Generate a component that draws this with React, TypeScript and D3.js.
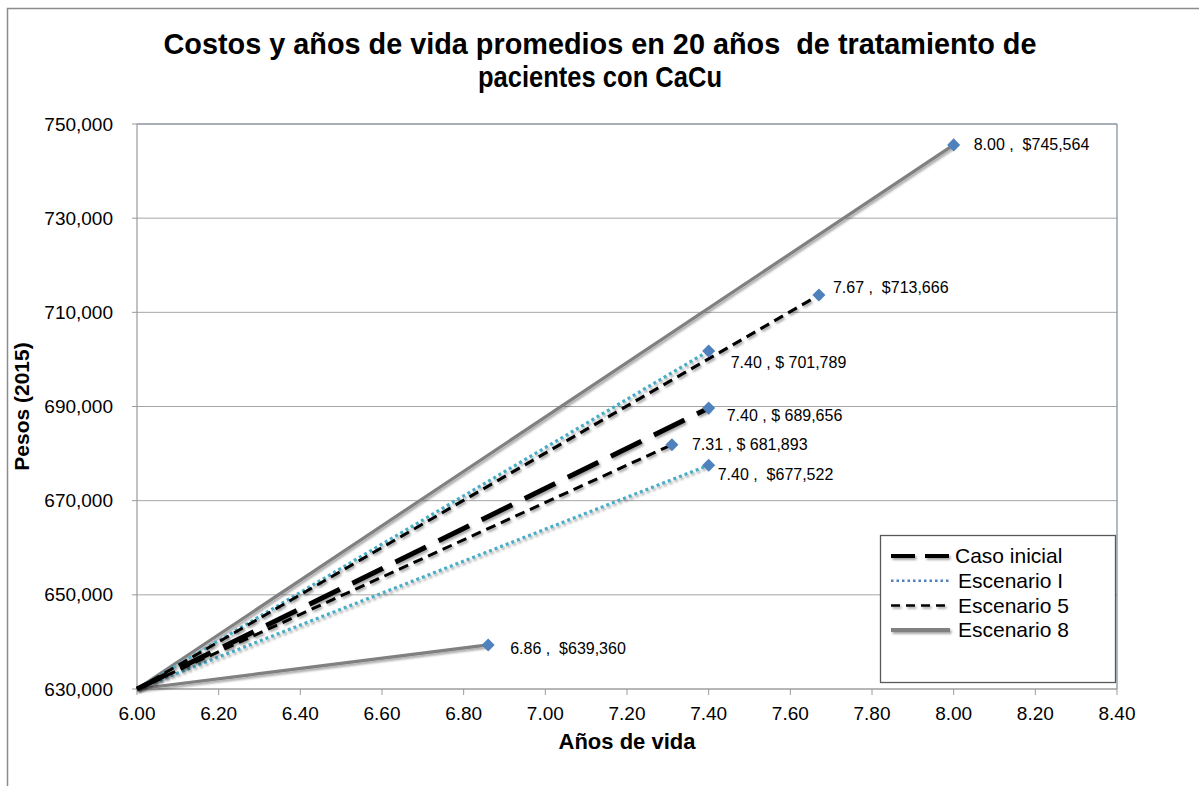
import React from "react";
import * as d3 from "d3";

const titleLines = ["Costos y años de vida promedios en 20 años  de tratamiento de", "pacientes con CaCu"];
const titleWidths = [873, 244];
const xAxisTitle = "Años de vida";
const yAxisTitle = "Pesos (2015)";

const xTicks = [6.0, 6.2, 6.4, 6.6, 6.8, 7.0, 7.2, 7.4, 7.6, 7.8, 8.0, 8.2, 8.4];
const yTicks = [630000, 650000, 670000, 690000, 710000, 730000, 750000];

const originX = 6.0;
const originY = 630000;

const seriesNames = ["Caso inicial", "Escenario I", "Escenario 5", "Escenario 8"];

// endpoints of each series (every line starts at the origin point)
const casoInicialX = [7.40];
const casoInicialY = [689656];
const escenarioIX = [7.40, 7.40];
const escenarioIY = [701789, 677522];
const escenario5X = [7.67, 7.31];
const escenario5Y = [713666, 681893];
const escenario8X = [8.00, 6.86];
const escenario8Y = [745564, 639360];

const casoInicialLabels = ["7.40 , $ 689,656"];
const escenarioILabels = ["7.40 , $ 701,789", "7.40 ,  $677,522"];
const escenario5Labels = ["7.67 ,  $713,666", "7.31 , $ 681,893"];
const escenario8Labels = ["8.00 ,  $745,564", "6.86 ,  $639,360"];

// label offsets (layout only)
const casoInicialOffsets = [[18, 7]];
const escenarioIOffsets = [[22, 11], [9, 9]];
const escenario5Offsets = [[14, -8], [20, 0]];
const escenario8Offsets = [[20, 0], [22, 3]];

const W = 1199;
const H = 786;
const plot = { left: 137, right: 1117, top: 124, bottom: 689 };
const FONT = "'Liberation Sans', Arial, Helvetica, sans-serif";

type Style = { stroke: string; width: number; dash: string | null };
const styles: Record<string, Style> = {
  "Caso inicial": { stroke: "#000000", width: 5, dash: "34,14" },
  "Escenario I": { stroke: "#4bacc6", width: 3.2, dash: "3,3" },
  "Escenario 5": { stroke: "#000000", width: 3, dash: "10,6" },
  "Escenario 8": { stroke: "#808080", width: 3.2, dash: null },
};

const legendStyles: Record<string, Style> = {
  "Caso inicial": { stroke: "#000000", width: 4, dash: "24,10" },
  "Escenario I": { stroke: "#4f81bd", width: 2.5, dash: "2.5,3" },
  "Escenario 5": { stroke: "#000000", width: 2.5, dash: "9,6" },
  "Escenario 8": { stroke: "#808080", width: 4, dash: null },
};

const seriesData = [
  { name: seriesNames[0], xs: casoInicialX, ys: casoInicialY, labels: casoInicialLabels, offsets: casoInicialOffsets },
  { name: seriesNames[1], xs: escenarioIX, ys: escenarioIY, labels: escenarioILabels, offsets: escenarioIOffsets },
  { name: seriesNames[2], xs: escenario5X, ys: escenario5Y, labels: escenario5Labels, offsets: escenario5Offsets },
  { name: seriesNames[3], xs: escenario8X, ys: escenario8Y, labels: escenario8Labels, offsets: escenario8Offsets },
];

const drawOrder = [3, 1, 0, 2];

export default function App() {
  const x = d3.scaleLinear().domain([6.0, 8.4]).range([plot.left, plot.right]);
  const y = d3.scaleLinear().domain([630000, 750000]).range([plot.bottom, plot.top]);
  const line = d3.line<[number, number]>().x((d) => x(d[0])).y((d) => y(d[1]));
  const fmt = d3.format(",");
  const diamond = d3.symbol().type(d3.symbolSquare).size(85)();

  return (
    <svg width={W} height={H} style={{ position: "absolute", left: 0, top: 0, background: "#fff" }} fontFamily={FONT}>
      <defs>
        <filter id="shadow" filterUnits="userSpaceOnUse" x={0} y={0} width={W} height={H}>
          <feDropShadow dx="1.5" dy="2" stdDeviation="1.2" floodColor="#000" floodOpacity="0.35" />
        </filter>
      </defs>
      <rect x={0} y={0} width={W} height={H} fill="#fff" />
      {/* outer chart border */}
      <rect x={7.5} y={8.5} width={1400} height={1000} fill="none" stroke="#8c8c8c" strokeWidth={1.5} />

      {/* title */}
      {titleLines.map((t, i) => (
        <text
          key={i}
          x={600}
          y={54 + i * 33}
          textAnchor="middle"
          fontSize={30}
          fontWeight="bold"
          fill="#000"
          textLength={titleWidths[i]}
          lengthAdjust="spacingAndGlyphs"
          style={{ whiteSpace: "pre" }}
        >
          {t}
        </text>
      ))}

      {/* gridlines */}
      {yTicks.map((v) => (
        <line key={"g" + v} x1={plot.left} x2={plot.right} y1={y(v)} y2={y(v)} stroke="#a6a6a6" strokeWidth={1} />
      ))}
      {/* plot border top/right */}
      <line x1={plot.left} x2={plot.right} y1={plot.top} y2={plot.top} stroke="#7f8a99" strokeWidth={1.2} />
      <line x1={plot.right} x2={plot.right} y1={plot.top} y2={plot.bottom} stroke="#7f8a99" strokeWidth={1.2} />
      {/* axes */}
      <line x1={plot.left} x2={plot.left} y1={plot.top} y2={plot.bottom} stroke="#9a9a9a" strokeWidth={1.2} />
      <line x1={plot.left} x2={plot.right} y1={plot.bottom} y2={plot.bottom} stroke="#9a9a9a" strokeWidth={1.2} />

      {/* y ticks */}
      {yTicks.map((v) => (
        <g key={"yt" + v}>
          <line x1={plot.left - 5} x2={plot.left} y1={y(v)} y2={y(v)} stroke="#9a9a9a" />
          <text x={113} y={y(v)} dy="0.35em" textAnchor="end" fontSize={19} fill="#000">
            {fmt(v)}
          </text>
        </g>
      ))}
      {/* x ticks */}
      {xTicks.map((v) => (
        <g key={"xt" + v}>
          <line x1={x(v)} x2={x(v)} y1={plot.bottom} y2={plot.bottom + 6} stroke="#9a9a9a" />
          <text x={x(v)} y={720} textAnchor="middle" fontSize={19} fill="#000">
            {v.toFixed(2)}
          </text>
        </g>
      ))}

      {/* axis titles */}
      <text x={627} y={749} textAnchor="middle" fontSize={22} fontWeight="bold" fill="#000">
        {xAxisTitle}
      </text>
      <text transform={`translate(29,${(plot.top + plot.bottom) / 2}) rotate(-90)`} textAnchor="middle" fontSize={21} fontWeight="bold" fill="#000">
        {yAxisTitle}
      </text>

      {/* series lines */}
      {drawOrder.map((si) => {
        const s = seriesData[si];
        const st = styles[s.name];
        return (
          <g key={"s" + si} filter="url(#shadow)">
            {s.xs.map((xv, j) => (
              <path
                key={j}
                d={line([[originX, originY], [xv, s.ys[j]]]) || ""}
                fill="none"
                stroke={st.stroke}
                strokeWidth={st.width}
                strokeDasharray={st.dash || undefined}
              />
            ))}
          </g>
        );
      })}

      {/* markers and labels */}
      {seriesData.map((s, si) =>
        s.xs.map((xv, j) => (
          <g key={"m" + si + "-" + j}>
            <path d={diamond || ""} transform={`translate(${x(xv)},${y(s.ys[j])}) rotate(45)`} fill="#4f81bd" />
            <text x={x(xv) + s.offsets[j][0]} y={y(s.ys[j]) + s.offsets[j][1]} dy="0.35em" fontSize={16} fill="#000" style={{ whiteSpace: "pre" }}>
              {s.labels[j]}
            </text>
          </g>
        ))
      )}

      {/* legend */}
      <rect x={880.5} y={535.5} width={235} height={147} fill="#fff" stroke="#595959" strokeWidth={1.3} />
      {seriesNames.map((n, i) => {
        const st = legendStyles[n];
        const cy = 556 + i * 24.7;
        return (
          <g key={"l" + n}>
            <line
              x1={891}
              x2={950}
              y1={cy}
              y2={cy}
              stroke={st.stroke}
              strokeWidth={st.width}
              strokeDasharray={st.dash || undefined}
              filter={i === 1 ? undefined : "url(#shadow)"}
            />
            <text x={i === 0 ? 955 : 958} y={cy} dy="0.35em" fontSize={21} fill="#000">
              {n}
            </text>
          </g>
        );
      })}
    </svg>
  );
}
